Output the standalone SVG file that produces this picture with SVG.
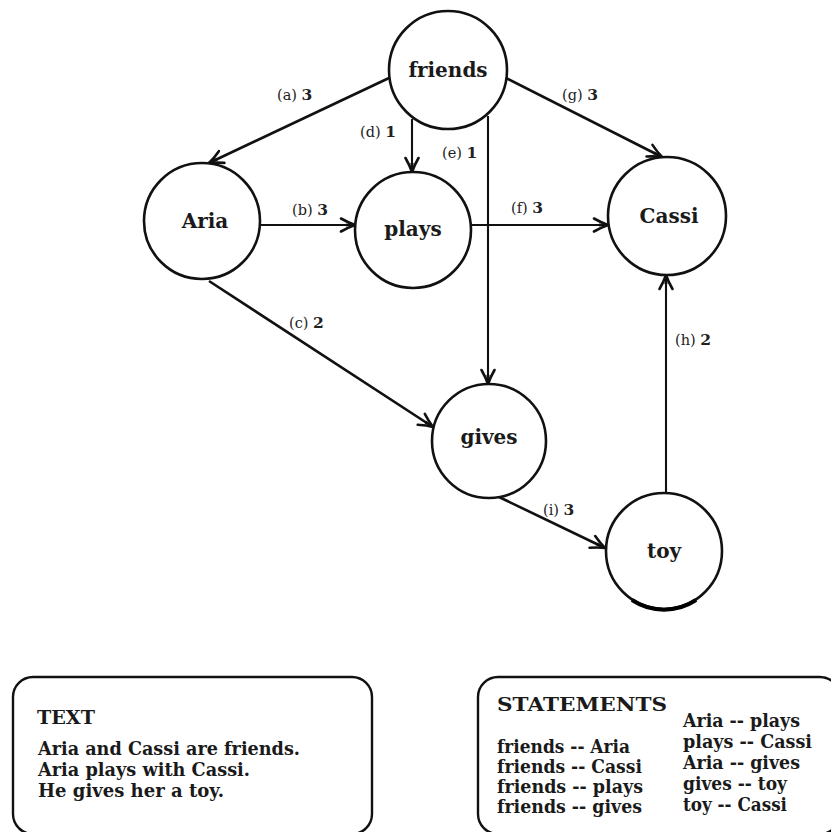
<svg xmlns="http://www.w3.org/2000/svg" width="831" height="832" viewBox="0 0 831 832">
  <style>
    .node circle { fill: #ffffff; stroke: #111111; stroke-width: 2.6; }
    .node text { font-family: "DejaVu Serif", "Liberation Serif", serif; font-weight: bold; font-size: 20px; fill: #1a1a1a; text-anchor: middle; }
    .edge { stroke: #111111; stroke-width: 2.6; fill: none; }
    .edge.thin { stroke-width: 2.1; }
    .elabel { font-family: "DejaVu Serif", "Liberation Serif", serif; font-size: 14.5px; fill: #222222; }
    .elabel .w { font-weight: bold; font-size: 15.5px; }
    .box { fill: #ffffff; stroke: #111111; stroke-width: 2.4; }
    .boxtext { font-family: "DejaVu Serif", "Liberation Serif", serif; font-weight: bold; font-size: 18px; fill: #1a1a1a; }
    .boxtitle { font-family: "DejaVu Serif", "Liberation Serif", serif; font-weight: bold; font-size: 19px; fill: #1a1a1a; }
  </style>
  <defs>
    <marker id="arrow" markerUnits="userSpaceOnUse" markerWidth="20" markerHeight="20" viewBox="-16 -10 20 20" refX="0" refY="0" orient="auto">
      <path d="M -14 -6.5 Q -6 -2 0 0 Q -6 2 -14 6.5" fill="none" stroke="#111111" stroke-width="2.6" stroke-linecap="round"/>
      <path d="M -9 -1.6 L 0 0 L -9 1.6 Z" fill="#111111"/>
    </marker>
  </defs>

  <rect width="831" height="832" fill="#ffffff"/>

  <!-- connectors -->
  <g id="connectors">
    <line class="edge" x1="389" y1="78" x2="209" y2="163" marker-end="url(#arrow)"/>
    <line class="edge" x1="506" y1="78" x2="662" y2="157" marker-end="url(#arrow)"/>
    <line class="edge thin" x1="412" y1="119" x2="412" y2="172" marker-end="url(#arrow)"/>
    <line class="edge thin" x1="488" y1="116" x2="488" y2="384" marker-end="url(#arrow)"/>
    <line class="edge thin" x1="260" y1="225" x2="355" y2="225" marker-end="url(#arrow)"/>
    <line class="edge thin" x1="471" y1="225" x2="608" y2="225" marker-end="url(#arrow)"/>
    <line class="edge" x1="209" y1="281" x2="433" y2="427" marker-end="url(#arrow)"/>
    <line class="edge thin" x1="666" y1="494" x2="666" y2="275" marker-end="url(#arrow)"/>
    <line class="edge" x1="499" y1="497" x2="605" y2="548" marker-end="url(#arrow)"/>
  </g>

  <!-- connector labels -->
  <g id="connector-labels">
    <text class="elabel" x="277" y="100">(a) <tspan class="w">3</tspan></text>
    <text class="elabel" x="360" y="137">(d) <tspan class="w">1</tspan></text>
    <text class="elabel" x="442" y="158">(e) <tspan class="w">1</tspan></text>
    <text class="elabel" x="562" y="100">(g) <tspan class="w">3</tspan></text>
    <text class="elabel" x="292" y="215">(b) <tspan class="w">3</tspan></text>
    <text class="elabel" x="511" y="213">(f) <tspan class="w">3</tspan></text>
    <text class="elabel" x="289" y="328">(c) <tspan class="w">2</tspan></text>
    <text class="elabel" x="675" y="345">(h) <tspan class="w">2</tspan></text>
    <text class="elabel" x="543" y="515">(i) <tspan class="w">3</tspan></text>
  </g>

  <!-- nodes -->
  <g id="node-friends" class="node">
    <circle cx="448" cy="70" r="59"/>
    <text x="448" y="77">friends</text>
  </g>
  <g id="node-aria" class="node">
    <circle cx="202" cy="221" r="58"/>
    <text x="205" y="228">Aria</text>
  </g>
  <g id="node-plays" class="node">
    <circle cx="413" cy="230" r="58"/>
    <text x="413" y="236">plays</text>
  </g>
  <g id="node-cassi" class="node">
    <circle cx="667" cy="216" r="59"/>
    <text x="669" y="223">Cassi</text>
  </g>
  <g id="node-gives" class="node">
    <circle cx="489" cy="441" r="57"/>
    <text x="489" y="444">gives</text>
  </g>
  <g id="node-toy" class="node">
    <circle cx="664" cy="551" r="58"/>
    <text x="664" y="558">toy</text>
    <path d="M 632 600 A 58 58 0 0 0 696 600" fill="none" stroke="#000000" stroke-width="4"/>
  </g>

  <!-- text panel -->
  <g id="panel-text">
    <rect class="box" x="13" y="677" width="359" height="157" rx="20" ry="20"/>
    <text class="boxtitle" x="37" y="724" textLength="58" lengthAdjust="spacingAndGlyphs">TEXT</text>
    <text class="boxtext" x="38" y="755" textLength="262" lengthAdjust="spacingAndGlyphs">Aria and Cassi are friends.</text>
    <text class="boxtext" x="38" y="776" textLength="212" lengthAdjust="spacingAndGlyphs">Aria plays with Cassi.</text>
    <text class="boxtext" x="38" y="797" textLength="186" lengthAdjust="spacingAndGlyphs">He gives her a toy.</text>
  </g>

  <!-- statements panel -->
  <g id="panel-statements">
    <rect class="box" x="478" y="677" width="362" height="157" rx="20" ry="20"/>
    <text class="boxtitle" x="497" y="711" textLength="170" lengthAdjust="spacingAndGlyphs">STATEMENTS</text>
    <text class="boxtext" x="497" y="753" textLength="133" lengthAdjust="spacingAndGlyphs">friends -- Aria</text>
    <text class="boxtext" x="497" y="773" textLength="145" lengthAdjust="spacingAndGlyphs">friends -- Cassi</text>
    <text class="boxtext" x="497" y="793" textLength="146" lengthAdjust="spacingAndGlyphs">friends -- plays</text>
    <text class="boxtext" x="497" y="813" textLength="145" lengthAdjust="spacingAndGlyphs">friends -- gives</text>
    <text class="boxtext" x="683" y="727" textLength="117" lengthAdjust="spacingAndGlyphs">Aria -- plays</text>
    <text class="boxtext" x="683" y="748" textLength="129" lengthAdjust="spacingAndGlyphs">plays -- Cassi</text>
    <text class="boxtext" x="683" y="769" textLength="117" lengthAdjust="spacingAndGlyphs">Aria -- gives</text>
    <text class="boxtext" x="683" y="790" textLength="104" lengthAdjust="spacingAndGlyphs">gives -- toy</text>
    <text class="boxtext" x="683" y="811" textLength="104" lengthAdjust="spacingAndGlyphs">toy -- Cassi</text>
  </g>
</svg>
